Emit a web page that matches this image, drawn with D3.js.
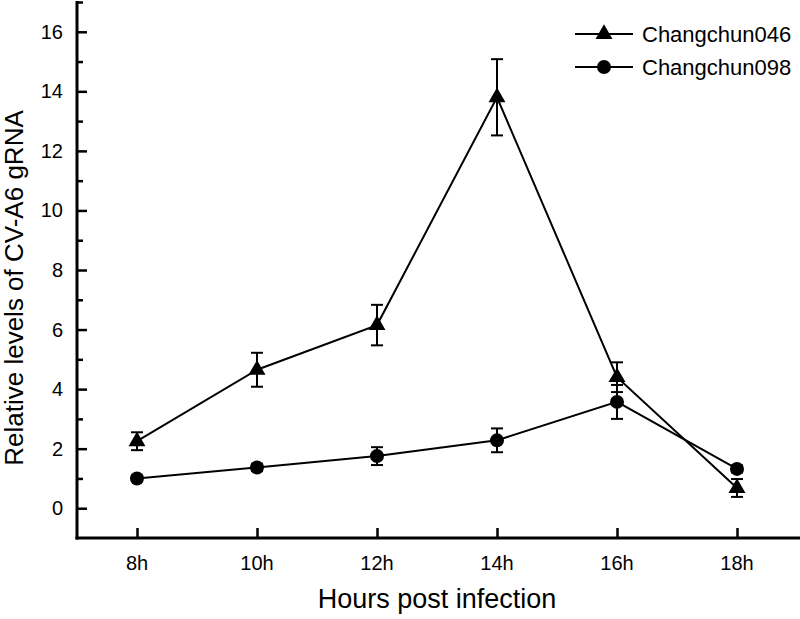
<!DOCTYPE html>
<html>
<head>
<meta charset="utf-8">
<script src="https://cdn.jsdelivr.net/npm/d3@7"></script>
<style>
  body { margin: 0; background: #fff; }
  text { font-family: "Liberation Sans", Arial, sans-serif; fill: #000; }
</style>
</head>
<body>
<svg id="chart" width="800" height="619"></svg>
<script>
// values
var hours = [8, 10, 12, 14, 16, 18];
var hourLabels = ["8h", "10h", "12h", "14h", "16h", "18h"];
var cc046 = [2.25, 4.65, 6.15, 13.8, 4.4, 0.68];
var cc046Err = [0.3, 0.57, 0.68, 1.28, 0.5, 0.3];
var cc098 = [1.0, 1.37, 1.75, 2.28, 3.57, 1.32];
var cc098Err = [0.1, 0.12, 0.3, 0.4, 0.57, 0.12];
var seriesNames = ["Changchun046", "Changchun098"];
var yMajor = [0, 2, 4, 6, 8, 10, 12, 14, 16];
var yMinor = [1, 3, 5, 7, 9, 11, 13, 15, 17];

var svg = d3.select("#chart"),
    width = +svg.attr("width"),
    height = +svg.attr("height");

var x = d3.scaleLinear().domain([7, 19]).range([77, 797]);
var y = d3.scaleLinear().domain([-1, 17]).range([538, 2]);

var series = [
  { name: seriesNames[0], vals: cc046, err: cc046Err, shape: "tri" },
  { name: seriesNames[1], vals: cc098, err: cc098Err, shape: "circ" }
];

// axes
var yAxis = svg.append("g")
  .attr("transform", "translate(77,0)")
  .call(d3.axisRight(y).tickValues(yMajor).tickSize(10).tickFormat(""));
yAxis.append("g")
  .call(d3.axisRight(y).tickValues(yMinor).tickSize(6).tickFormat(""));
yAxis.selectAll(".domain").remove();

var xAxis = svg.append("g")
  .attr("transform", "translate(0,538)")
  .call(d3.axisTop(x).tickValues(hours).tickSize(10).tickFormat(""));
xAxis.select(".domain").remove();

svg.selectAll(".tick line").attr("stroke", "#000").attr("stroke-width", 2.5);

svg.append("line")
  .attr("x1", 77).attr("x2", 77).attr("y1", y(17) - 1).attr("y2", 539.5)
  .attr("stroke", "#000").attr("stroke-width", 3);
svg.append("line")
  .attr("x1", 75.5).attr("x2", 800).attr("y1", 538).attr("y2", 538)
  .attr("stroke", "#000").attr("stroke-width", 3);

// tick labels
svg.append("g").selectAll("text")
  .data(yMajor).enter().append("text")
  .attr("x", 63).attr("y", function(d) { return y(d); })
  .attr("dy", "0.35em")
  .attr("text-anchor", "end")
  .style("font-size", "20px")
  .text(function(d) { return d; });

svg.append("g").selectAll("text")
  .data(hours).enter().append("text")
  .attr("x", function(d) { return x(d); }).attr("y", 570)
  .attr("text-anchor", "middle")
  .style("font-size", "20px")
  .text(function(d, i) { return hourLabels[i]; });

// titles
svg.append("text")
  .attr("x", 437).attr("y", 608)
  .attr("text-anchor", "middle")
  .style("font-size", "27px")
  .text("Hours post infection");

svg.append("text")
  .attr("transform", "translate(23,288) rotate(-90)")
  .attr("text-anchor", "middle")
  .style("font-size", "26px")
  .text("Relative levels of CV-A6 gRNA");

var line = d3.line()
  .x(function(d, i) { return x(hours[i]); })
  .y(function(d) { return y(d); });

var triangle = d3.symbol().type(d3.symbolTriangle).size(125);

function drawMarker(sel, shape) {
  if (shape == "tri") {
    sel.append("path").attr("d", triangle).attr("fill", "#000");
  } else {
    sel.append("circle").attr("r", 7).attr("fill", "#000");
  }
}

series.forEach(function(s) {
  var g = svg.append("g");

  // error bars
  var eb = g.selectAll(".err")
    .data(s.vals).enter().append("g")
    .attr("transform", function(d, i) { return "translate(" + x(hours[i]) + ",0)"; });
  eb.append("line")
    .attr("y1", function(d, i) { return y(d + s.err[i]); })
    .attr("y2", function(d, i) { return y(d - s.err[i]); })
    .attr("stroke", "#000").attr("stroke-width", 2);
  eb.append("line")
    .attr("x1", -6).attr("x2", 6)
    .attr("y1", function(d, i) { return y(d + s.err[i]); })
    .attr("y2", function(d, i) { return y(d + s.err[i]); })
    .attr("stroke", "#000").attr("stroke-width", 2);
  eb.append("line")
    .attr("x1", -6).attr("x2", 6)
    .attr("y1", function(d, i) { return y(d - s.err[i]); })
    .attr("y2", function(d, i) { return y(d - s.err[i]); })
    .attr("stroke", "#000").attr("stroke-width", 2);

  g.append("path")
    .datum(s.vals)
    .attr("d", line)
    .attr("fill", "none")
    .attr("stroke", "#000")
    .attr("stroke-width", 2);

  var pts = g.selectAll(".pt")
    .data(s.vals).enter().append("g")
    .attr("transform", function(d, i) { return "translate(" + x(hours[i]) + "," + y(d) + ")"; });
  drawMarker(pts, s.shape);
});

// legend
var legend = svg.append("g");
series.forEach(function(s, i) {
  var ly = 34 + i * 33;
  legend.append("line")
    .attr("x1", 575).attr("x2", 633).attr("y1", ly).attr("y2", ly)
    .attr("stroke", "#000").attr("stroke-width", 2);
  var m = legend.append("g").attr("transform", "translate(604," + ly + ")");
  drawMarker(m, s.shape);
  legend.append("text")
    .attr("x", 642).attr("y", ly).attr("dy", "0.36em")
    .style("font-size", "22px")
    .text(s.name);
});
</script>
</body>
</html>
